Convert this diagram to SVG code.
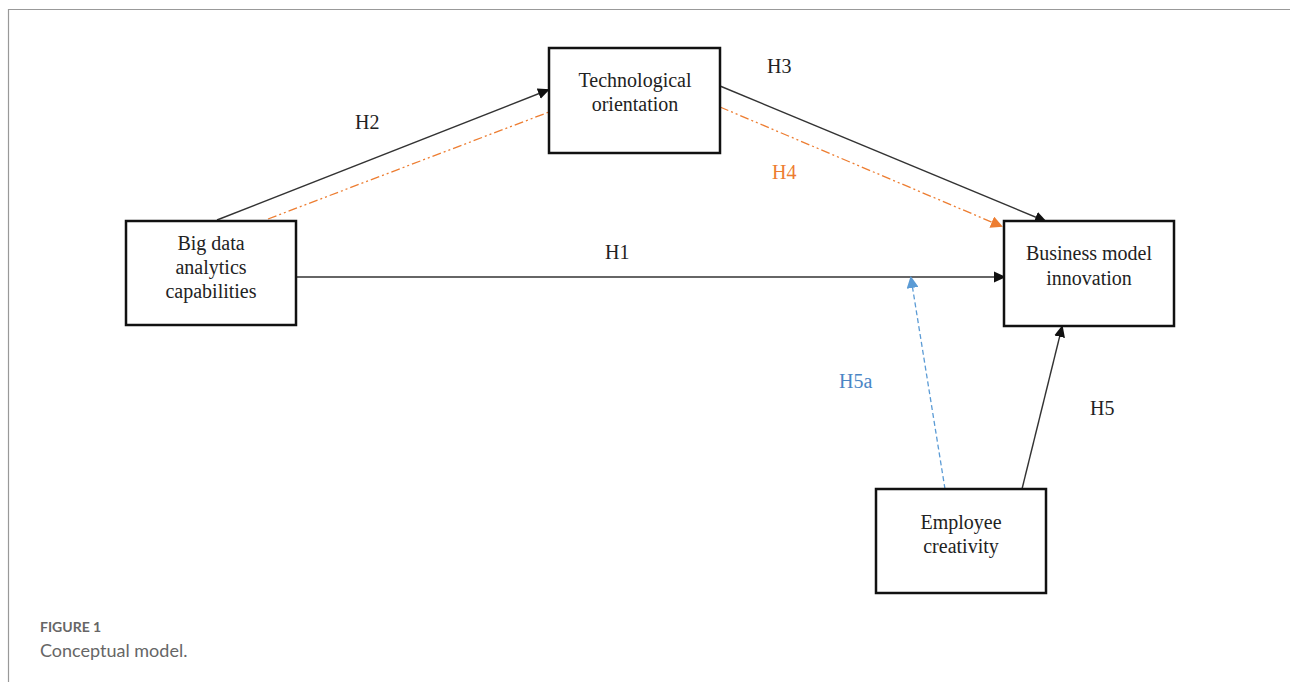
<svg xmlns="http://www.w3.org/2000/svg" width="1290" height="682" viewBox="0 0 1290 682">
<style>
.box{fill:#fff;stroke:#111;stroke-width:2.5}
.t{font-family:"Liberation Serif","Times New Roman",serif;font-size:20px;fill:#222;text-anchor:middle}
.lbl{font-family:"Liberation Serif","Times New Roman",serif;font-size:20px;fill:#222}
.ln{stroke:#333;stroke-width:1.4;fill:none}
.dd{stroke:#ed7d31;stroke-width:1.3;stroke-dasharray:9,3,2,3,2,3;fill:none}
</style>
<defs>
<marker id="ab" markerWidth="12" markerHeight="12" refX="10" refY="6" orient="auto" markerUnits="userSpaceOnUse"><path d="M0,0.5 L12,6 L0,11.5 Z" fill="#111"/></marker>
<marker id="ao" markerWidth="12" markerHeight="12" refX="10" refY="6" orient="auto" markerUnits="userSpaceOnUse"><path d="M0,0 L12,6 L0,12 Z" fill="#ed7d31"/></marker>
<marker id="abl" markerWidth="12" markerHeight="12" refX="10" refY="6" orient="auto" markerUnits="userSpaceOnUse"><path d="M0,0 L12,6 L0,12 Z" fill="#5b9bd5"/></marker>
</defs>
<rect width="1290" height="682" fill="#fff"/>
<path d="M1290,9.5 H8.5 V682" fill="none" stroke="#999" stroke-width="1.2"/>
<g id="connectors">
<line class="ln" x1="217" y1="220" x2="548" y2="90" marker-end="url(#ab)"/>
<line class="dd" x1="268" y1="219" x2="549" y2="112"/>
<line class="ln" x1="720" y1="86" x2="1045" y2="221" marker-end="url(#ab)"/>
<line class="dd" x1="720" y1="107" x2="1001" y2="226" marker-end="url(#ao)"/>
<line class="ln" x1="296" y1="277" x2="1004" y2="277" marker-end="url(#ab)"/>
<line x1="945" y1="489" x2="911" y2="278" stroke="#5b9bd5" stroke-width="1.3" stroke-dasharray="5,3" marker-end="url(#abl)"/>
<line class="ln" x1="1022" y1="489" x2="1062" y2="327" marker-end="url(#ab)"/>
</g>
<g id="labels">
<text class="lbl" x="355" y="129">H2</text>
<text class="lbl" x="767" y="73">H3</text>
<text class="lbl" x="772" y="179" style="fill:#ed7d31">H4</text>
<text class="lbl" x="605" y="259">H1</text>
<text class="lbl" x="839" y="388" style="fill:#4a86c5">H5a</text>
<text class="lbl" x="1090" y="415">H5</text>
</g>
<g id="node-bda">
<rect class="box" x="126" y="221" width="170" height="104"/>
<text class="t" x="211" y="250">Big data</text>
<text class="t" x="211" y="274">analytics</text>
<text class="t" x="211" y="298">capabilities</text>
</g>
<g id="node-to">
<rect class="box" x="549" y="48" width="171" height="105"/>
<text class="t" x="635" y="87">Technological</text>
<text class="t" x="635" y="111">orientation</text>
</g>
<g id="node-bmi">
<rect class="box" x="1004" y="221" width="170" height="105"/>
<text class="t" x="1089" y="260">Business model</text>
<text class="t" x="1089" y="285">innovation</text>
</g>
<g id="node-ec">
<rect class="box" x="876" y="489" width="170" height="104"/>
<text class="t" x="961" y="529">Employee</text>
<text class="t" x="961" y="553">creativity</text>
</g>
<g id="caption">
<text x="40" y="632" font-family="Lato, sans-serif" font-size="14" font-weight="bold" fill="#666">FIGURE 1</text>
<text x="40" y="657" font-family="Lato, sans-serif" font-size="18" fill="#666">Conceptual model.</text>
</g>
</svg>
